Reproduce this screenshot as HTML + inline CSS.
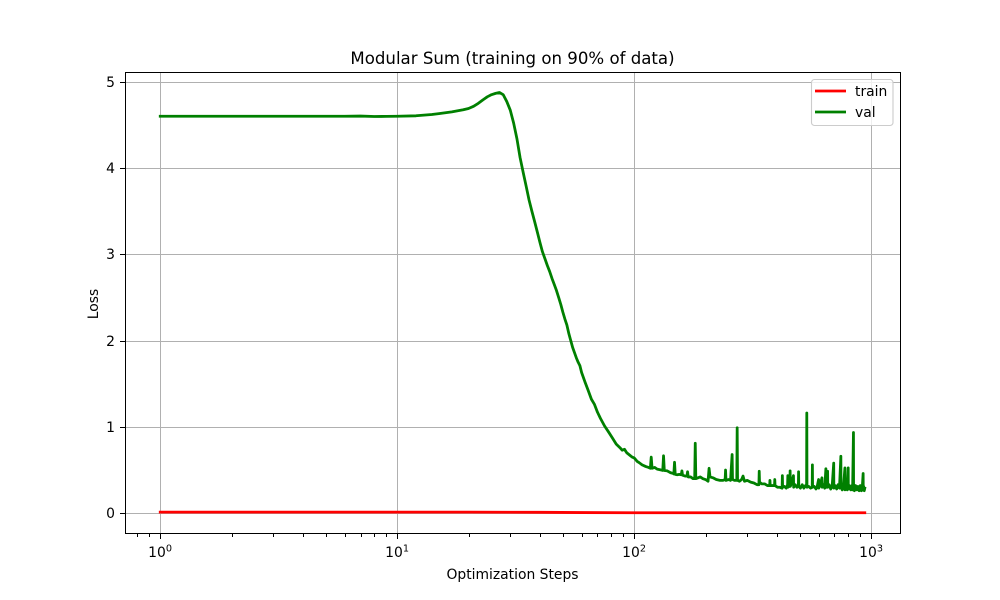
<!DOCTYPE html>
<html>
<head>
<meta charset="utf-8">
<title>Modular Sum (training on 90% of data)</title>
<style>
html,body{margin:0;padding:0;background:#fff;}
svg{display:block;}
text{font-family:"DejaVu Sans",sans-serif;fill:#000;}
</style>
</head>
<body>
<svg id="chart" xmlns="http://www.w3.org/2000/svg" width="1000" height="600" viewBox="0 0 1000 600">
<rect x="0" y="0" width="1000" height="600" fill="#fff"/>
<text x="512.5" y="64" font-size="16.6" text-anchor="middle">Modular Sum (training on 90% of data)</text>
<text x="512.5" y="579" font-size="13.89" text-anchor="middle">Optimization Steps</text>
<text x="0" y="0" font-size="13.89" text-anchor="middle" transform="translate(98,304) rotate(-90)">Loss</text>
<g id="grid" shape-rendering="crispEdges"></g>
<g id="series"></g>
<rect x="125.5" y="72.5" width="775" height="461" fill="none" stroke="#000" stroke-width="1" shape-rendering="crispEdges"/>
<g id="ticks"></g>
<g>
<rect x="811.5" y="79.5" width="81.5" height="46" rx="3" ry="3" fill="#fff" fill-opacity="0.8" stroke="#ccc" stroke-width="1.11"/>
<line x1="815" y1="91" x2="846" y2="91" stroke="#ff0000" stroke-width="2.78"/>
<text x="855" y="96" font-size="13.89">train</text>
<line x1="815" y1="112" x2="846" y2="112" stroke="#008000" stroke-width="2.78"/>
<text x="855" y="117" font-size="13.89">val</text>
</g>
</svg>
<script>
const xTickExponents = [0, 1, 2, 3];
const yTickValues = [0, 1, 2, 3, 4, 5];
const minorTickMultipliers = [2, 3, 4, 5, 6, 7, 8, 9];

const trainSteps = [1, 5, 10, 20, 30, 40, 60, 100, 200, 400, 940];
const trainLoss = [0.012, 0.012, 0.012, 0.012, 0.011, 0.010, 0.007, 0.005, 0.005, 0.005, 0.005];

const valSteps = [
  1,2,3,4,5,6,7,8,9,10,
  12,14,15,17,19,20,21,22,23,24,
  25,26,27,28,29,30,31,32,33,34,
  35,36,37,38,39,40,41,42,43,44,
  45,46,47,48,49,50,51,52,53,54,
  55,56,57,58,59,60,62,64,66,68,
  70,72,75,78,81,84,87,89,91,93,
  96,98,100,103,105,108,112,115,117,118,
  119,122,125,130,132,133,134,138,142,146,
  147,148,149,152,155,158,159,160,164,167,
  168,169,173,177,180,181,182,186,190,195,
  200,205,207,209,215,222,230,237,242,243,
  244,250,255,259,260,265,271,272,273,278,
  284,288,292,300,310,320,330,336,337,338,
  345,355,365,373,374,375,385,391,392,393,
  403,412,421,422,423,430,438,444,445,446,
  450,454,455,456,462,470,471,478,486,493,
  494,495,503,512,520,528,534,535,536,545,
  555,564,565,566,575,585,592,600,601,610,
  620,621,630,637,644,645,650,655,656,665,
  675,685,695,696,705,715,725,735,745,746,
  755,765,775,776,785,793,800,801,810,820,
  830,835,842,843,850,860,870,880,890,900,
  910,918,925,926,930,935,940
];
const valLoss = [
  4.60,4.60,4.60,4.60,4.60,4.60,4.602,4.597,4.598,4.60,
  4.605,4.62,4.63,4.65,4.675,4.69,4.715,4.75,4.79,4.825,
  4.85,4.865,4.875,4.85,4.77,4.67,4.52,4.34,4.12,3.95,
  3.79,3.63,3.50,3.38,3.26,3.14,3.03,2.95,2.87,2.80,
  2.72,2.65,2.58,2.50,2.42,2.33,2.25,2.18,2.08,2.00,
  1.92,1.86,1.80,1.75,1.71,1.63,1.52,1.42,1.32,1.26,
  1.17,1.10,1.01,0.94,0.87,0.80,0.76,0.73,0.74,0.70,
  0.67,0.65,0.64,0.60,0.585,0.56,0.54,0.53,0.52,0.65,
  0.52,0.53,0.51,0.50,0.495,0.665,0.495,0.49,0.47,0.46,
  0.455,0.59,0.45,0.445,0.45,0.445,0.49,0.44,0.43,0.43,
  0.48,0.42,0.42,0.40,0.40,0.81,0.40,0.41,0.42,0.40,
  0.39,0.37,0.52,0.42,0.41,0.39,0.38,0.38,0.39,0.50,
  0.38,0.39,0.38,0.68,0.39,0.38,0.38,0.99,0.38,0.37,
  0.39,0.43,0.37,0.38,0.36,0.35,0.33,0.33,0.485,0.36,
  0.34,0.34,0.32,0.32,0.38,0.32,0.32,0.32,0.39,0.32,
  0.30,0.30,0.29,0.435,0.30,0.31,0.29,0.33,0.435,0.30,
  0.33,0.31,0.49,0.31,0.35,0.435,0.30,0.33,0.30,0.32,
  0.48,0.31,0.29,0.33,0.29,0.32,0.31,1.16,0.30,0.31,
  0.29,0.30,0.56,0.30,0.31,0.28,0.31,0.39,0.29,0.33,
  0.41,0.30,0.33,0.29,0.515,0.31,0.30,0.485,0.30,0.33,
  0.28,0.32,0.58,0.29,0.32,0.28,0.33,0.29,0.66,0.30,
  0.27,0.32,0.525,0.27,0.33,0.27,0.525,0.28,0.32,0.27,
  0.32,0.27,0.935,0.28,0.26,0.32,0.27,0.31,0.26,0.32,
  0.26,0.31,0.46,0.27,0.31,0.26,0.29
];

const SVG_NS = 'http://www.w3.org/2000/svg';
const plotLeft = 125, plotRight = 900, plotTop = 72, plotBottom = 534;
const xLogMin = -0.1487, xLogMax = 3.1217;
const yMin = -0.2414, yMax = 5.1126;

function xScale(step) {
  return plotLeft + (Math.log10(step) - xLogMin) / (xLogMax - xLogMin) * (plotRight - plotLeft);
}
function yScale(value) {
  return plotBottom - (value - yMin) / (yMax - yMin) * (plotBottom - plotTop);
}
function snap(pos) {
  return Math.round(pos) + 0.5;
}
function makeEl(tag, attrs, parent) {
  const el = document.createElementNS(SVG_NS, tag);
  for (const key in attrs) el.setAttribute(key, attrs[key]);
  parent.appendChild(el);
  return el;
}
function linePath(steps, values) {
  return steps.map(function (s, i) {
    return (i ? 'L' : 'M') + xScale(s).toFixed(2) + ' ' + yScale(values[i]).toFixed(2);
  }).join('');
}

const gridGroup = document.getElementById('grid');
const tickGroup = document.getElementById('ticks');
const seriesGroup = document.getElementById('series');

xTickExponents.forEach(function (exp) {
  const x = snap(xScale(Math.pow(10, exp)));
  const grid = makeEl('line', {x1: x, x2: x, y1: plotTop, y2: plotBottom, stroke: '#b0b0b0', 'stroke-width': 1}, gridGroup);
  
  
  const tick = makeEl('line', {x1: x, x2: x, y1: plotBottom, y2: plotBottom + 5, stroke: '#000', 'stroke-width': 1, 'shape-rendering': 'crispEdges'}, tickGroup);
  
  
  const label = makeEl('text', {x: x - 3.5, y: 557, 'font-size': 13.89, 'text-anchor': 'middle'}, tickGroup);
  
  
  label.textContent = '10';
  const sup = makeEl('text', {x: x + 8.5, y: 551.5, 'font-size': 9.7, 'text-anchor': 'middle'}, tickGroup);
  
  
  sup.textContent = String(exp);
});

[-1, 0, 1, 2, 3].forEach(function (exp) {
  minorTickMultipliers.forEach(function (m) {
    const raw = xScale(m * Math.pow(10, exp));
    if (raw < plotLeft || raw > plotRight) return;
    const x = snap(raw);
    const minor = makeEl('line', {x1: x, x2: x, y1: plotBottom, y2: plotBottom + 3, stroke: '#000', 'stroke-width': 1, 'shape-rendering': 'crispEdges'}, tickGroup);
    
    
  });
});

yTickValues.forEach(function (v) {
  const y = snap(yScale(v));
  const grid = makeEl('line', {x1: plotLeft, x2: plotRight, y1: y, y2: y, stroke: '#b0b0b0', 'stroke-width': 1}, gridGroup);
  
  
  const tick = makeEl('line', {x1: plotLeft - 5, x2: plotLeft, y1: y, y2: y, stroke: '#000', 'stroke-width': 1, 'shape-rendering': 'crispEdges'}, tickGroup);
  
  
  const label = makeEl('text', {x: 115, y: y + 4.5, 'font-size': 13.89, 'text-anchor': 'end'}, tickGroup);
  
  
  label.textContent = String(v);
});

const trainLine = makeEl('path', {d: linePath(trainSteps, trainLoss), fill: 'none', stroke: '#ff0000', 'stroke-width': 2.78, 'stroke-linejoin': 'round', 'stroke-linecap': 'square'}, seriesGroup);



const valLine = makeEl('path', {d: linePath(valSteps, valLoss), fill: 'none', stroke: '#008000', 'stroke-width': 2.78, 'stroke-linejoin': 'round', 'stroke-linecap': 'square'}, seriesGroup);


</script>
</body>
</html>
